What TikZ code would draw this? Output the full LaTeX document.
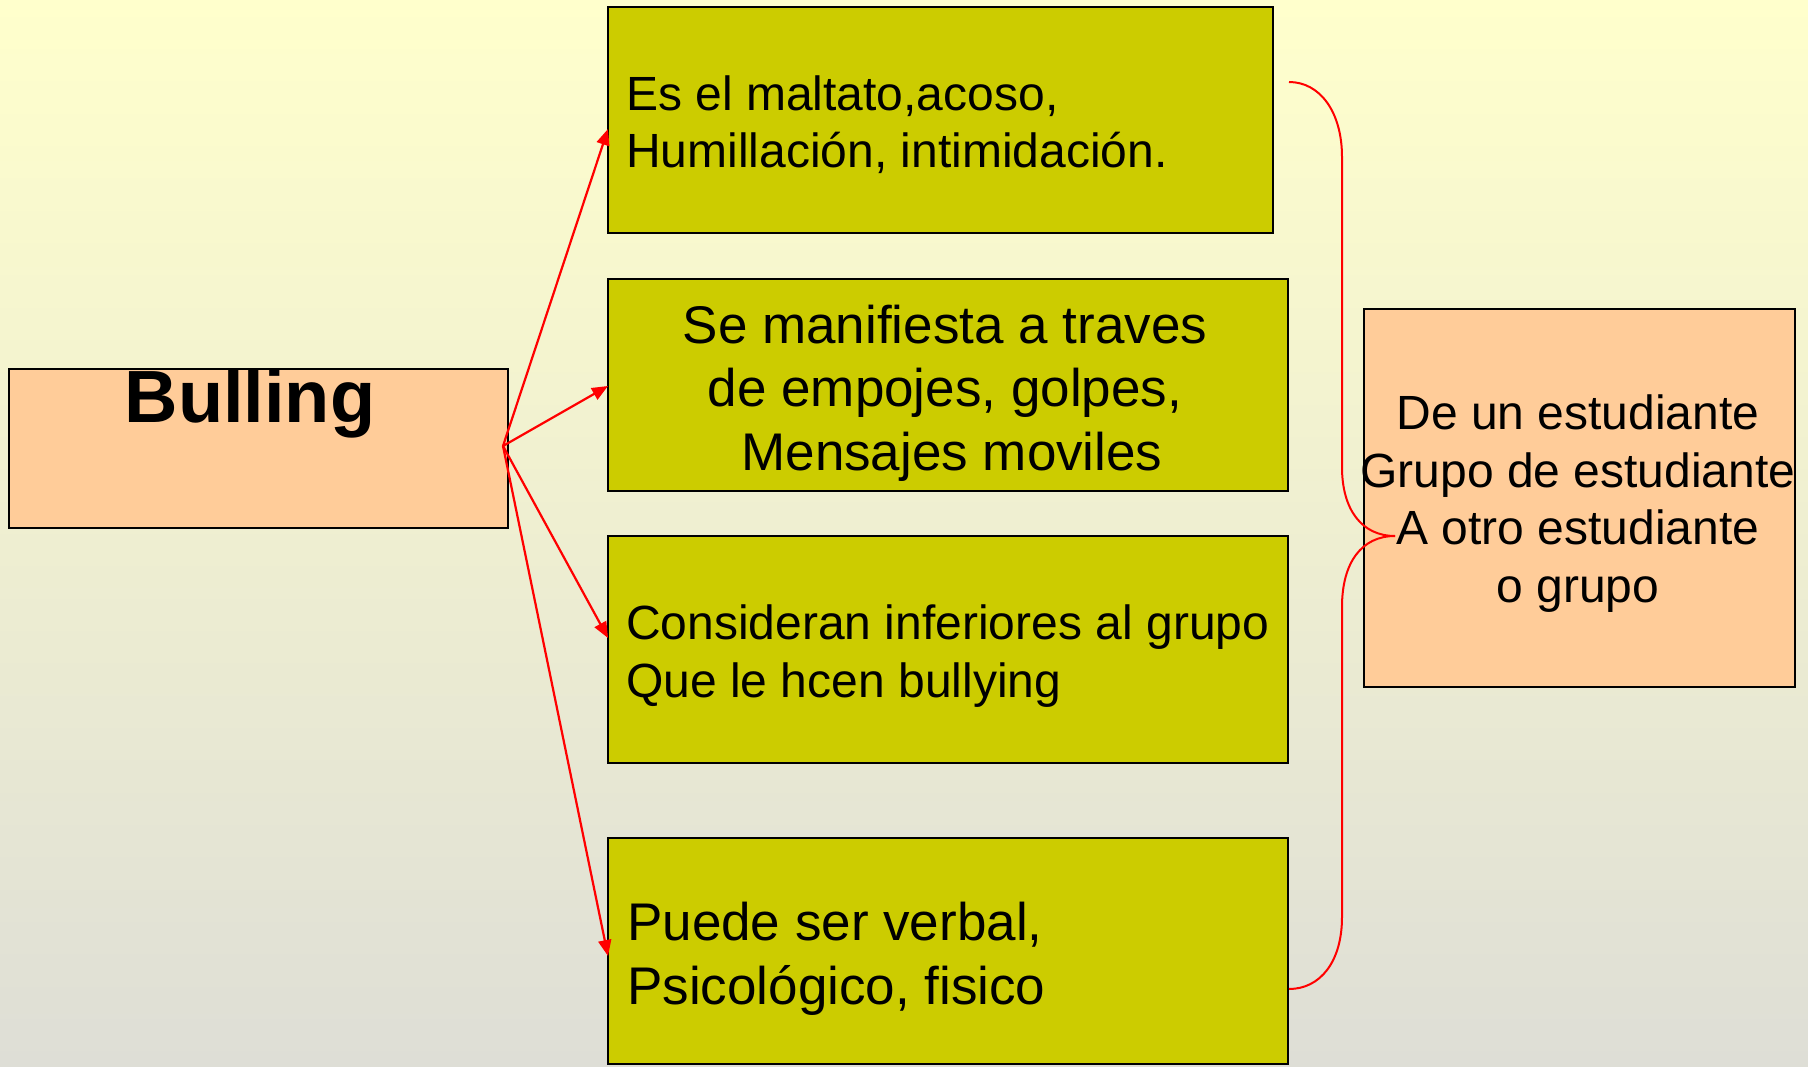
\documentclass[tikz,border=0pt]{standalone}
\usepackage{fontspec}
\setmainfont{Liberation Sans}
\usetikzlibrary{arrows.meta}
\definecolor{olivebox}{RGB}{204,204,0}
\definecolor{peach}{RGB}{255,204,153}
\definecolor{bgtop}{RGB}{255,255,204}
\definecolor{bgbot}{RGB}{222,222,214}
\definecolor{linkred}{RGB}{255,0,0}
\begin{document}
\begin{tikzpicture}[x=1pt,y=-1pt,
  obox/.style={draw=black,line width=2pt,fill=olivebox,rectangle,inner sep=0pt},
  pbox/.style={draw=black,line width=2pt,fill=peach,rectangle,inner sep=0pt},
  smalltxt/.style={inner sep=0pt,font=\fontsize{48}{57.5}\selectfont},
  bigtxt/.style={inner sep=0pt,font=\fontsize{53}{63.5}\selectfont},
  redarrow/.style={draw=linkred,line width=2.2pt,-{Triangle[length=16pt,width=13pt]}},
  redline/.style={draw=linkred,line width=2pt}]
\useasboundingbox (0,0) rectangle (1808,1067);
\shade[top color=bgtop,bottom color=bgbot] (0,0) rectangle (1808,1067);

% boxes
\node[pbox,minimum width=499,minimum height=159] (bul) at (258.5,448.5) {};
\node[obox,minimum width=665,minimum height=226] (b1) at (940.5,120) {};
\node[obox,minimum width=680,minimum height=212] (b2) at (948,385) {};
\node[obox,minimum width=680,minimum height=227] (b3) at (948,649.5) {};
\node[obox,minimum width=680,minimum height=226] (b4) at (948,951) {};
\node[pbox,minimum width=431,minimum height=378] (rb) at (1579.5,498) {};

% texts (base anchor = baseline of the last line)
\node[inner sep=0pt,anchor=base,font=\bfseries\fontsize{74}{88}\selectfont] (tbul) at (250,422) {Bulling};
\node[smalltxt,anchor=base west,align=left] (t1) at (626,168) {Es el maltato,acoso,\\Humillación, intimidación.};
\node[bigtxt,anchor=base,align=center] (t2) at (945,470) {Se manifiesta a traves\\de empojes, golpes,\\\hspace*{14pt}Mensajes moviles};
\node[smalltxt,anchor=base west,align=left] (t3) at (626,697) {Consideran inferiores al grupo\\Que le hcen bullying};
\node[bigtxt,anchor=base west,align=left] (t4) at (627,1004) {Puede ser verbal,\\Psicológico, fisico};
\node[smalltxt,anchor=base,align=center] (tr) at (1578,602) {De un estudiante\\Grupo de estudiante\\A otro estudiante\\o grupo};

% arrows
\coordinate (o) at (503,446);
\coordinate (e1) at (608,129);
\coordinate (e2) at (608,386);
\coordinate (e3) at (608,638);
\coordinate (e4) at (608,956);
\draw[redarrow] (o) -- (e1);
\draw[redarrow] (o) -- (e2);
\draw[redarrow] (o) -- (e3);
\draw[redarrow] (o) -- (e4);

% brace
\coordinate (bt) at (1289,82);
\coordinate (bm) at (1395,536);
\coordinate (bb) at (1289,989);
\draw[redline] (bt) .. controls (1320,82) and (1342,112) .. (1342,157)
  -- (1342,467) .. controls (1342,510) and (1362,536) .. (bm);
\draw[redline] (bm) .. controls (1362,536) and (1342,562) .. (1342,607)
  -- (1342,917) .. controls (1342,962) and (1320,989) .. (bb);
\end{tikzpicture}
\end{document}
